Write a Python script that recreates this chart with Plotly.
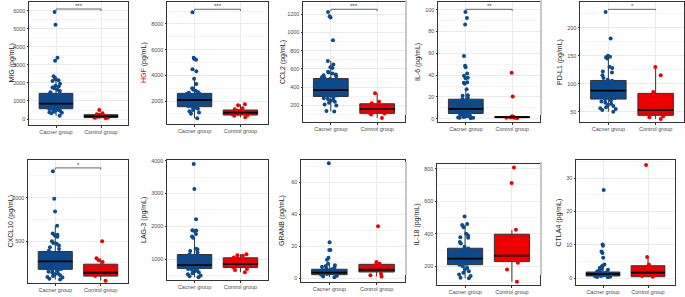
import plotly.graph_objects as go

# ---------------- data ----------------
groups = ["Cacner group", "Control group"]

markers = ["MIG", "HGF", "CCL2", "IL-6", "PD-L1", "CXCL10", "LAG-3", "GRANB", "IL-18", "CTLA4"]
units = "(pg/mL)"

# box statistics: [lower whisker, q1, median, q3, upper whisker]
MIG_cancer_box = [185, 572, 850, 1421, 2363]
MIG_control_box = [50, 80, 150, 240, 320]
HGF_cancer_box = [650, 1558, 2078, 2597, 3740]
HGF_control_box = [727, 909, 1091, 1299, 1740]
CCL2_cancer_box = [134, 298, 367, 495, 687]
CCL2_control_box = [62, 113, 160, 218, 334]
IL6_cancer_box = [0.5, 4.8, 9.1, 17.9, 28]
IL6_control_box = [0.5, 1.0, 1.5, 2.0, 2.2]
PDL1_cancer_box = [50, 72.5, 87.4, 105.7, 148]
PDL1_control_box = [37, 43.5, 53, 82.7, 129.6]
CXCL10_cancer_box = [60, 177, 268, 382, 677]
CXCL10_control_box = [47, 99, 138, 236, 303]
LAG3_cancer_box = [444, 717, 818, 1141, 1687]
LAG3_control_box = [600, 747, 848, 1040, 1150]
GRANB_cancer_box = [0.5, 2.1, 3.4, 5.5, 9.0]
GRANB_control_box = [1.0, 3.8, 5.2, 8.6, 10.0]
IL18_cancer_box = [126, 210, 247, 311, 457]
IL18_control_box = [105, 229, 266, 397, 424]
CTLA4_cancer_box = [0.2, 0.6, 1.2, 1.8, 3.9]
CTLA4_control_box = [0.3, 0.4, 1.6, 3.7, 6.3]

# individual observations (visible points)
MIG_cancer = [5926, 5225, 3397, 3231, 2363, 2252, 2200, 2150, 2100, 1950, 1850, 1800, 1750, 1700,
              1620, 1550, 1480, 1400, 1350, 1300, 1250, 1200, 1150, 1100, 1050, 1000, 950, 900,
              870, 850, 820, 800, 760, 720, 680, 650, 620, 590, 560, 530, 500, 470, 440, 410,
              380, 350, 320, 185]
MIG_control = [500, 320, 270, 240, 200, 170, 150, 130, 110, 90, 70, 50]
HGF_cancer = [8909, 5376, 5273, 5221, 4468, 4312, 3740, 3325, 2987, 2883, 2800, 2700, 2650, 2600,
              2550, 2500, 2450, 2400, 2350, 2300, 2250, 2200, 2150, 2100, 2078, 2050, 2000, 1950,
              1900, 1850, 1800, 1750, 1700, 1650, 1600, 1550, 1500, 1450, 1400, 1300, 1200, 1100,
              1000, 650]
HGF_control = [1740, 1662, 1429, 1350, 1250, 1169, 1100, 1050, 1000, 950, 909, 850, 727]
CCL2_cancer = [1225, 1178, 1165, 916, 687, 650, 620, 610, 570, 560, 550, 540, 530, 520, 510, 500,
               490, 480, 470, 460, 450, 440, 420, 400, 380, 370, 360, 350, 340, 330, 320, 310,
               300, 290, 280, 270, 260, 250, 240, 230, 210, 200, 140, 134]
CCL2_control = [334, 240, 225, 200, 180, 160, 150, 140, 120, 110, 100, 62]
IL6_cancer = [97.8, 92.4, 86.4, 57.6, 48.5, 47.3, 41.5, 39.5, 37.6, 37, 33.5, 33, 32, 27, 21.5, 21,
              19, 18, 17, 16, 15, 14, 13, 12, 11, 10, 9.5, 9, 8.5, 8, 7, 6.5, 6, 5.5, 5, 4.5, 4,
              3.5, 3, 2.5, 2, 1.8, 1.5, 1.2, 1, 0.8, 0.5]
IL6_control = [42.1, 20.3, 2.2, 1.8, 1.5, 1.2, 1.0, 0.8, 0.5]
PDL1_cancer = [227.7, 180.4, 150, 148, 147, 145, 130, 128, 121.6, 120, 115, 110, 107, 105, 103,
               100, 98, 95, 93, 90, 88, 86, 84, 82, 80, 78, 76, 74, 72, 70, 68, 66, 64, 62, 60,
               58, 56, 55, 53, 50]
PDL1_control = [129.6, 114.8, 85, 50, 42, 40, 37]
CXCL10_cancer = [1303, 988, 842, 677, 590, 575, 567, 550, 500, 480, 470, 450, 430, 410, 390, 370,
                 350, 330, 310, 300, 290, 280, 270, 260, 250, 240, 230, 220, 210, 200, 190, 180,
                 170, 160, 150, 140, 130, 120, 110, 100, 90, 83, 70, 60]
CXCL10_control = [500, 303, 280, 260, 200, 160, 140, 130, 120, 100, 47]
LAG3_cancer = [3900, 3140, 2212, 1880, 1870, 1859, 1768, 1687, 1650, 1313, 1300, 1250, 1200, 1150,
               1120, 1100, 1080, 1050, 1020, 1000, 980, 950, 920, 900, 880, 850, 830, 818, 800,
               780, 760, 740, 720, 700, 680, 650, 620, 600, 570, 540, 500, 480, 444]
LAG3_control = [1150, 1120, 1100, 1050, 1000, 950, 900, 850, 800, 750, 700, 667, 600]
GRANB_cancer = [72, 22.5, 17.6, 17.6, 12.8, 11.5, 9.0, 8, 7.5, 7, 6.5, 6, 5.5, 5, 4.5, 4, 3.5, 3,
                2.5, 2, 1.5, 1, 0.5]
GRANB_control = [32.5, 10, 9.0, 8, 5.9, 2.7, 1.7, 1.0]
IL18_cancer = [506, 460, 454, 440, 400, 390, 378, 375, 350, 340, 320, 310, 300, 295, 290, 280, 270,
               265, 260, 255, 250, 247, 240, 235, 230, 225, 220, 215, 210, 200, 190, 180, 170,
               160, 150, 140, 130, 126]
IL18_control = [808, 712, 424, 260, 239, 222, 181, 105]
CTLA4_cancer = [26.5, 10.1, 9.7, 8.0, 7.5, 6.1, 4.1, 3.8, 3.5, 3, 2.8, 2.5, 2.2, 2, 1.8, 1.6, 1.4,
                1.2, 1, 0.9, 0.8, 0.7, 0.6, 0.5, 0.4, 0.3, 0.2]
CTLA4_control = [34, 6.3, 4.1, 3.5, 3, 2, 1.6, 1, 0.6, 0.4]

# tick labels per panel
MIG_ticks = [0, 1000, 2000, 3000, 4000, 5000, 6000]
HGF_ticks = [2000, 4000, 6000, 8000]
CCL2_ticks = [200, 400, 600, 800, 1000, 1200]
IL6_ticks = [0, 20, 40, 60, 80, 100]
PDL1_ticks = [50, 100, 150, 200]
CXCL10_ticks = [500, 1000]
LAG3_ticks = [1000, 2000, 3000, 4000]
GRANB_ticks = [0, 20, 40, 60]
IL18_ticks = [200, 400, 600, 800]
CTLA4_ticks = [0, 10, 20, 30]

significance = ["***", "***", "***", "**", "*", "*", "", "", "", ""]

cancer_boxes = [MIG_cancer_box, HGF_cancer_box, CCL2_cancer_box, IL6_cancer_box, PDL1_cancer_box,
                CXCL10_cancer_box, LAG3_cancer_box, GRANB_cancer_box, IL18_cancer_box, CTLA4_cancer_box]
control_boxes = [MIG_control_box, HGF_control_box, CCL2_control_box, IL6_control_box, PDL1_control_box,
                 CXCL10_control_box, LAG3_control_box, GRANB_control_box, IL18_control_box, CTLA4_control_box]
cancer_pts = [MIG_cancer, HGF_cancer, CCL2_cancer, IL6_cancer, PDL1_cancer,
              CXCL10_cancer, LAG3_cancer, GRANB_cancer, IL18_cancer, CTLA4_cancer]
control_pts = [MIG_control, HGF_control, CCL2_control, IL6_control, PDL1_control,
               CXCL10_control, LAG3_control, GRANB_control, IL18_control, CTLA4_control]
ticks = [MIG_ticks, HGF_ticks, CCL2_ticks, IL6_ticks, PDL1_ticks,
         CXCL10_ticks, LAG3_ticks, GRANB_ticks, IL18_ticks, CTLA4_ticks]

# ---------------- layout / style ----------------
W, H = 685, 297
BLUE = "#0D4A8C"
RED = "#EE0000"
FONT = "Liberation Sans, Arial, sans-serif"

# plot-area pixel boxes: (left, right, top, bottom)
panel_px = [(29, 128, 2, 125), (167, 268, 2, 124), (303, 405, 2, 122), (438, 540, 2, 122),
            (580, 684, 2, 122), (28, 128, 160, 283), (167, 268, 160, 280), (301, 405, 160, 282),
            (437, 540, 164, 285), (576, 675, 160, 285)]
y_ranges = [(-330, 6480), (210, 9710), (18, 1335), (-3, 107), (31.6, 245.7),
            (20, 1433), (364, 4020), (-2.5, 74.1), (85, 829), (-2.1, 35.5)]
title_x_px = [12, 144, 283, 418, 560, 10, 144, 282, 417, 558]
# bracket level (data units) and drop of bracket ends
brackets = [(6092, 110), (9143, 130), (1255, 19), (100.3, 1.5), (232.6, 1.8), (1342, 19),
            None, None, None, None]

fig = go.Figure()
layout = {}
shapes = []
annotations = []
BW = 0.75

for i in range(10):
    n = i + 1
    xa, ya = f"x{n}", f"y{n}"
    L, R, T, B = panel_px[i]
    dom_x = [L / W, R / W]
    dom_y = [1 - B / H, 1 - T / H]
    tk = ticks[i]
    step = tk[1] - tk[0]
    minor_vals = [tk[0] - step / 2] + [t + step / 2 for t in tk]

    for g, box, pts, col in ((0, cancer_boxes[i], cancer_pts[i], BLUE), (1, control_boxes[i], control_pts[i], RED)):
        fig.add_trace(go.Box(
            x=[groups[g]], lowerfence=[box[0]], q1=[box[1]], median=[box[2]], q3=[box[3]],
            upperfence=[box[4]], fillcolor=col, line=dict(color="#333333", width=1),
            whiskerwidth=0, width=BW, boxpoints=False, showlegend=False,
            xaxis=xa, yaxis=ya))
        fig.add_trace(go.Box(
            x=[groups[g]] * len(pts), y=pts, boxpoints="all", jitter=0.55, pointpos=0,
            fillcolor="rgba(0,0,0,0)", line=dict(color="rgba(0,0,0,0)", width=0),
            marker=dict(color=col, size=4), whiskerwidth=0, width=BW, showlegend=False,
            hoveron="points", xaxis=xa, yaxis=ya))
        shapes.append(dict(type="line", xref=xa, yref=ya, x0=g - BW / 2, x1=g + BW / 2,
                           y0=box[2], y1=box[2], line=dict(color="black", width=1.8)))

    sfx = "" if n == 1 else str(n)
    layout[f"xaxis{sfx}"] = dict(
        domain=dom_x, anchor=ya, type="category", categoryorder="array", categoryarray=groups,
        range=[-0.6, 1.6], showgrid=True, gridcolor="#EBEBEB", gridwidth=0.8,
        showline=True, mirror=True, linecolor="#333333", linewidth=1,
        ticks="outside", ticklen=1.5, tickcolor="#333333", tickwidth=0.8, automargin=False,
        tickfont=dict(family=FONT, size=5.5, color="#4D4D4D"), zeroline=False, fixedrange=True)
    layout[f"yaxis{sfx}"] = dict(
        domain=dom_y, anchor=xa, range=list(y_ranges[i]), tickmode="array", tickvals=tk,
        ticktext=[str(t) for t in tk], showgrid=True, gridcolor="#EBEBEB", gridwidth=0.8,
        minor=dict(tickmode="array", tickvals=minor_vals, showgrid=True, gridcolor="#F5F5F5",
                   gridwidth=0.6, ticks=""),
        showline=True, mirror=True, linecolor="#333333", linewidth=1, automargin=False,
        ticks="outside", ticklen=1.5, tickcolor="#333333", tickwidth=0.8,
        tickfont=dict(family=FONT, size=5.5, color="#4D4D4D"), zeroline=False, fixedrange=True)

    # y title
    name = markers[i]
    ttxt = (f"<span style='color:{RED}'>{name}</span> {units}" if name == "HGF"
            else f"{name} {units}")
    annotations.append(dict(text=ttxt, xref="paper", yref="paper", x=title_x_px[i] / W,
                            y=1 - (T + B) / 2 / H, textangle=-90, showarrow=False,
                            xanchor="center", yanchor="middle",
                            font=dict(family=FONT, size=7, color="#222222")))

    # significance bracket
    if brackets[i] is not None:
        lvl, drop = brackets[i]
        for x0, y0, x1, y1 in ((0, lvl, 1, lvl), (0, lvl - drop, 0, lvl), (1, lvl - drop, 1, lvl)):
            shapes.append(dict(type="line", xref=xa, yref=ya, x0=x0, x1=x1, y0=y0, y1=y1,
                               line=dict(color="#555555", width=0.9)))
        annotations.append(dict(text=significance[i], xref=xa, yref=ya, x=0.5, y=lvl,
                                showarrow=False, yanchor="bottom", yshift=-2,
                                font=dict(family=FONT, size=6, color="#333333")))

# faint borders of the original image crops
for (x, y0, y1) in ((406, 0, 115), (541, 0, 115), (406, 162, 275), (541, 162, 275)):
    shapes.append(dict(type="line", xref="paper", yref="paper", x0=x / W, x1=x / W,
                       y0=1 - y1 / H, y1=1 - y0 / H, line=dict(color="#C8C8C8", width=2)))

fig.update_layout(**layout)
fig.update_layout(width=W, height=H, margin=dict(l=0, r=0, t=0, b=0, autoexpand=False),
                  paper_bgcolor="white", plot_bgcolor="white", boxmode="overlay",
                  shapes=shapes, annotations=annotations, showlegend=False,
                  font=dict(family=FONT))

fig.write_html("out.html", config={"displayModeBar": False},
               post_script="document.body.style.margin='0';document.body.style.overflow='hidden';")
